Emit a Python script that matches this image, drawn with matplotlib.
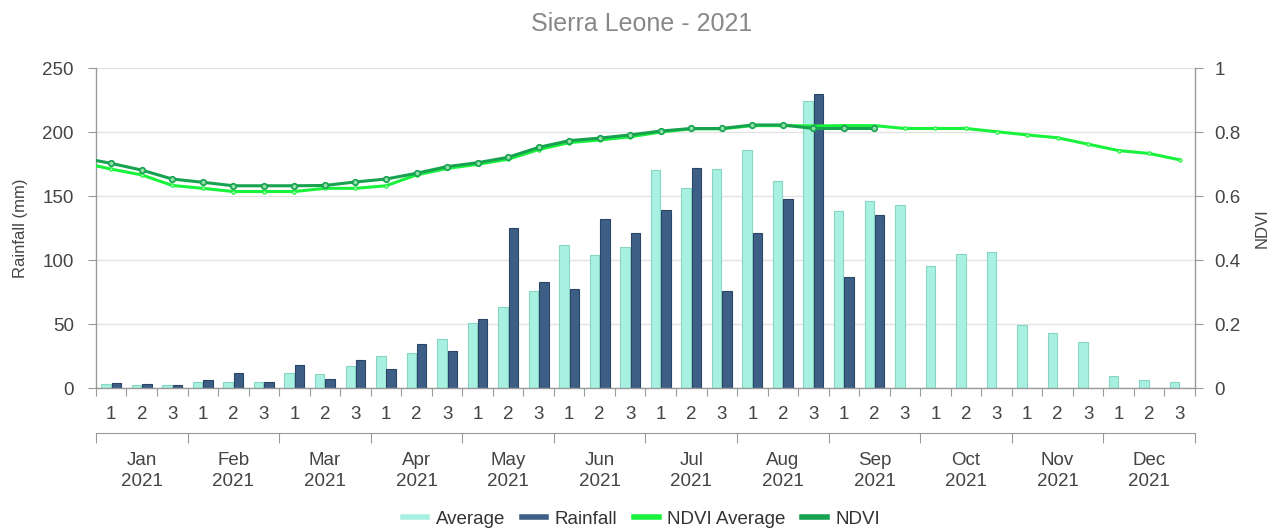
import numpy as np
import matplotlib.pyplot as plt
from matplotlib.lines import Line2D

plt.rcParams['font.family'] = ['Liberation Sans', 'DejaVu Sans']

months = ['Jan', 'Feb', 'Mar', 'Apr', 'May', 'Jun', 'Jul', 'Aug', 'Sep', 'Oct', 'Nov', 'Dec']
year = '2021'
dekads = ['1', '2', '3'] * 12

# rainfall (mm) per dekad
avg_rain = [3, 2, 2, 5, 5, 5, 12, 11, 17, 25, 27, 38,
            51, 63, 76, 112, 104, 110, 170, 156, 171, 186, 162, 224,
            138, 146, 143, 95, 105, 106, 49, 43, 36, 9, 6, 5]
rainfall = [4, 3, 2, 6, 12, 5, 18, 7, 22, 15, 34, 29,
            54, 125, 83, 77, 132, 121, 139, 172, 76, 121, 148, 230,
            87, 135]

# NDVI; first value is the last dekad of the previous year (clipped at the edge)
ndvi_avg = [0.705, 0.684, 0.666, 0.633, 0.624, 0.614, 0.614, 0.614, 0.624, 0.624, 0.632, 0.666, 0.686,
            0.699, 0.715, 0.745, 0.767, 0.775, 0.785, 0.800, 0.810, 0.810, 0.820, 0.820, 0.819,
            0.820, 0.820, 0.811, 0.811, 0.811, 0.801, 0.791, 0.782, 0.762, 0.742, 0.733, 0.713]
ndvi = [0.720, 0.702, 0.681, 0.653, 0.643, 0.632, 0.632, 0.632, 0.633, 0.644, 0.653, 0.671, 0.692,
        0.704, 0.721, 0.752, 0.773, 0.781, 0.791, 0.803, 0.811, 0.811, 0.822, 0.822, 0.811,
        0.811, 0.811]

fig = plt.figure(figsize=(12.83, 5.31), dpi=100)
ax = fig.add_axes([0.0748, 0.2693, 0.8566, 0.6026])
ax2 = ax.twinx()

x = np.arange(36)
w = 0.31
ax.bar(x[:len(avg_rain)] - 0.17, avg_rain, width=w, color='#a8f0e1', edgecolor='#86d6c4', linewidth=0.8, zorder=2)
ax.bar(x[:len(rainfall)] + 0.17, rainfall, width=w, color='#3d5f86', edgecolor='#2b4566', linewidth=0.8, zorder=2)

xa = np.arange(-1, len(ndvi_avg) - 1)
xn = np.arange(-1, len(ndvi) - 1)
ax2.plot(xa, ndvi_avg, color='#19f23c', lw=2.2, marker='o', ms=2.4, mfc='#b8ffc0', mec='#19f23c', mew=0.8)
ax2.plot(xn, ndvi, color='#17a24f', lw=2.2, marker='o', ms=4, mfc='#8fe0a8', mec='#17a24f', mew=1.2)

ax.set_xlim(-0.5, 35.5)
ax.set_ylim(0, 250)
ax2.set_ylim(0, 1)
ax.set_yticks(range(0, 251, 50))
ax2.set_yticks([0, 0.2, 0.4, 0.6, 0.8, 1])
ax2.set_yticklabels(['0', '0.2', '0.4', '0.6', '0.8', '1'])
ax.grid(axis='y', color='#e3e3e3', lw=1, zorder=0)
ax.set_axisbelow(True)

for a in (ax, ax2):
    for s in a.spines.values():
        s.set_visible(False)
ax.spines['left'].set_visible(True)
ax.spines['bottom'].set_visible(True)
ax2.spines['right'].set_visible(True)
for s in (ax.spines['left'], ax.spines['bottom'], ax2.spines['right']):
    s.set_color('#999999')
    s.set_linewidth(1)

ax.tick_params(axis='y', colors='#999999', labelcolor='#444444', labelsize=13.5, length=6, pad=10)
ax2.tick_params(axis='y', colors='#999999', labelcolor='#444444', labelsize=13.5, length=6, pad=8)

# dekad ticks
ax.set_xticks(np.arange(-0.5, 36, 1))
ax.set_xticklabels([])
ax.set_xticks(x, minor=True)
ax.set_xticklabels(dekads, minor=True)
ax.tick_params(axis='x', which='major', colors='#999999', length=6)
ax.tick_params(axis='x', which='minor', length=0, labelsize=13.5, labelcolor='#444444', pad=13)

# month axis
sec = ax.secondary_xaxis(-0.14)
sec.set_xticks(np.arange(-0.5, 36, 3))
sec.set_xticklabels([])
sec.set_xticks(np.arange(1, 36, 3), minor=True)
sec.set_xticklabels([m + '\n' + year for m in months], minor=True, linespacing=1.3)
sec.tick_params(axis='x', which='major', colors='#999999', length=7)
sec.tick_params(axis='x', which='minor', length=0, labelsize=13.5, labelcolor='#444444', pad=14)
sec.spines['bottom'].set_color('#999999')

ax.set_ylabel('Rainfall (mm)', fontsize=12, color='#444444', labelpad=10)
ax2.set_ylabel('NDVI', fontsize=12, color='#444444', labelpad=10)

fig.suptitle('Sierra Leone - 2021', fontsize=18, color='#888888', y=0.978)

handles = [Line2D([], [], color='#a8f0e1', lw=4),
           Line2D([], [], color='#3d5f86', lw=4),
           Line2D([], [], color='#19f23c', lw=4),
           Line2D([], [], color='#17a24f', lw=4)]
fig.legend(handles, ['Average', 'Rainfall', 'NDVI Average', 'NDVI'], loc='center',
           bbox_to_anchor=(0.5, 0.022), ncol=4, frameon=False, fontsize=13.5,
           handlelength=1.3, handletextpad=0.45, columnspacing=0.9, labelcolor='#333333')

fig.savefig('out.png', dpi=100)
